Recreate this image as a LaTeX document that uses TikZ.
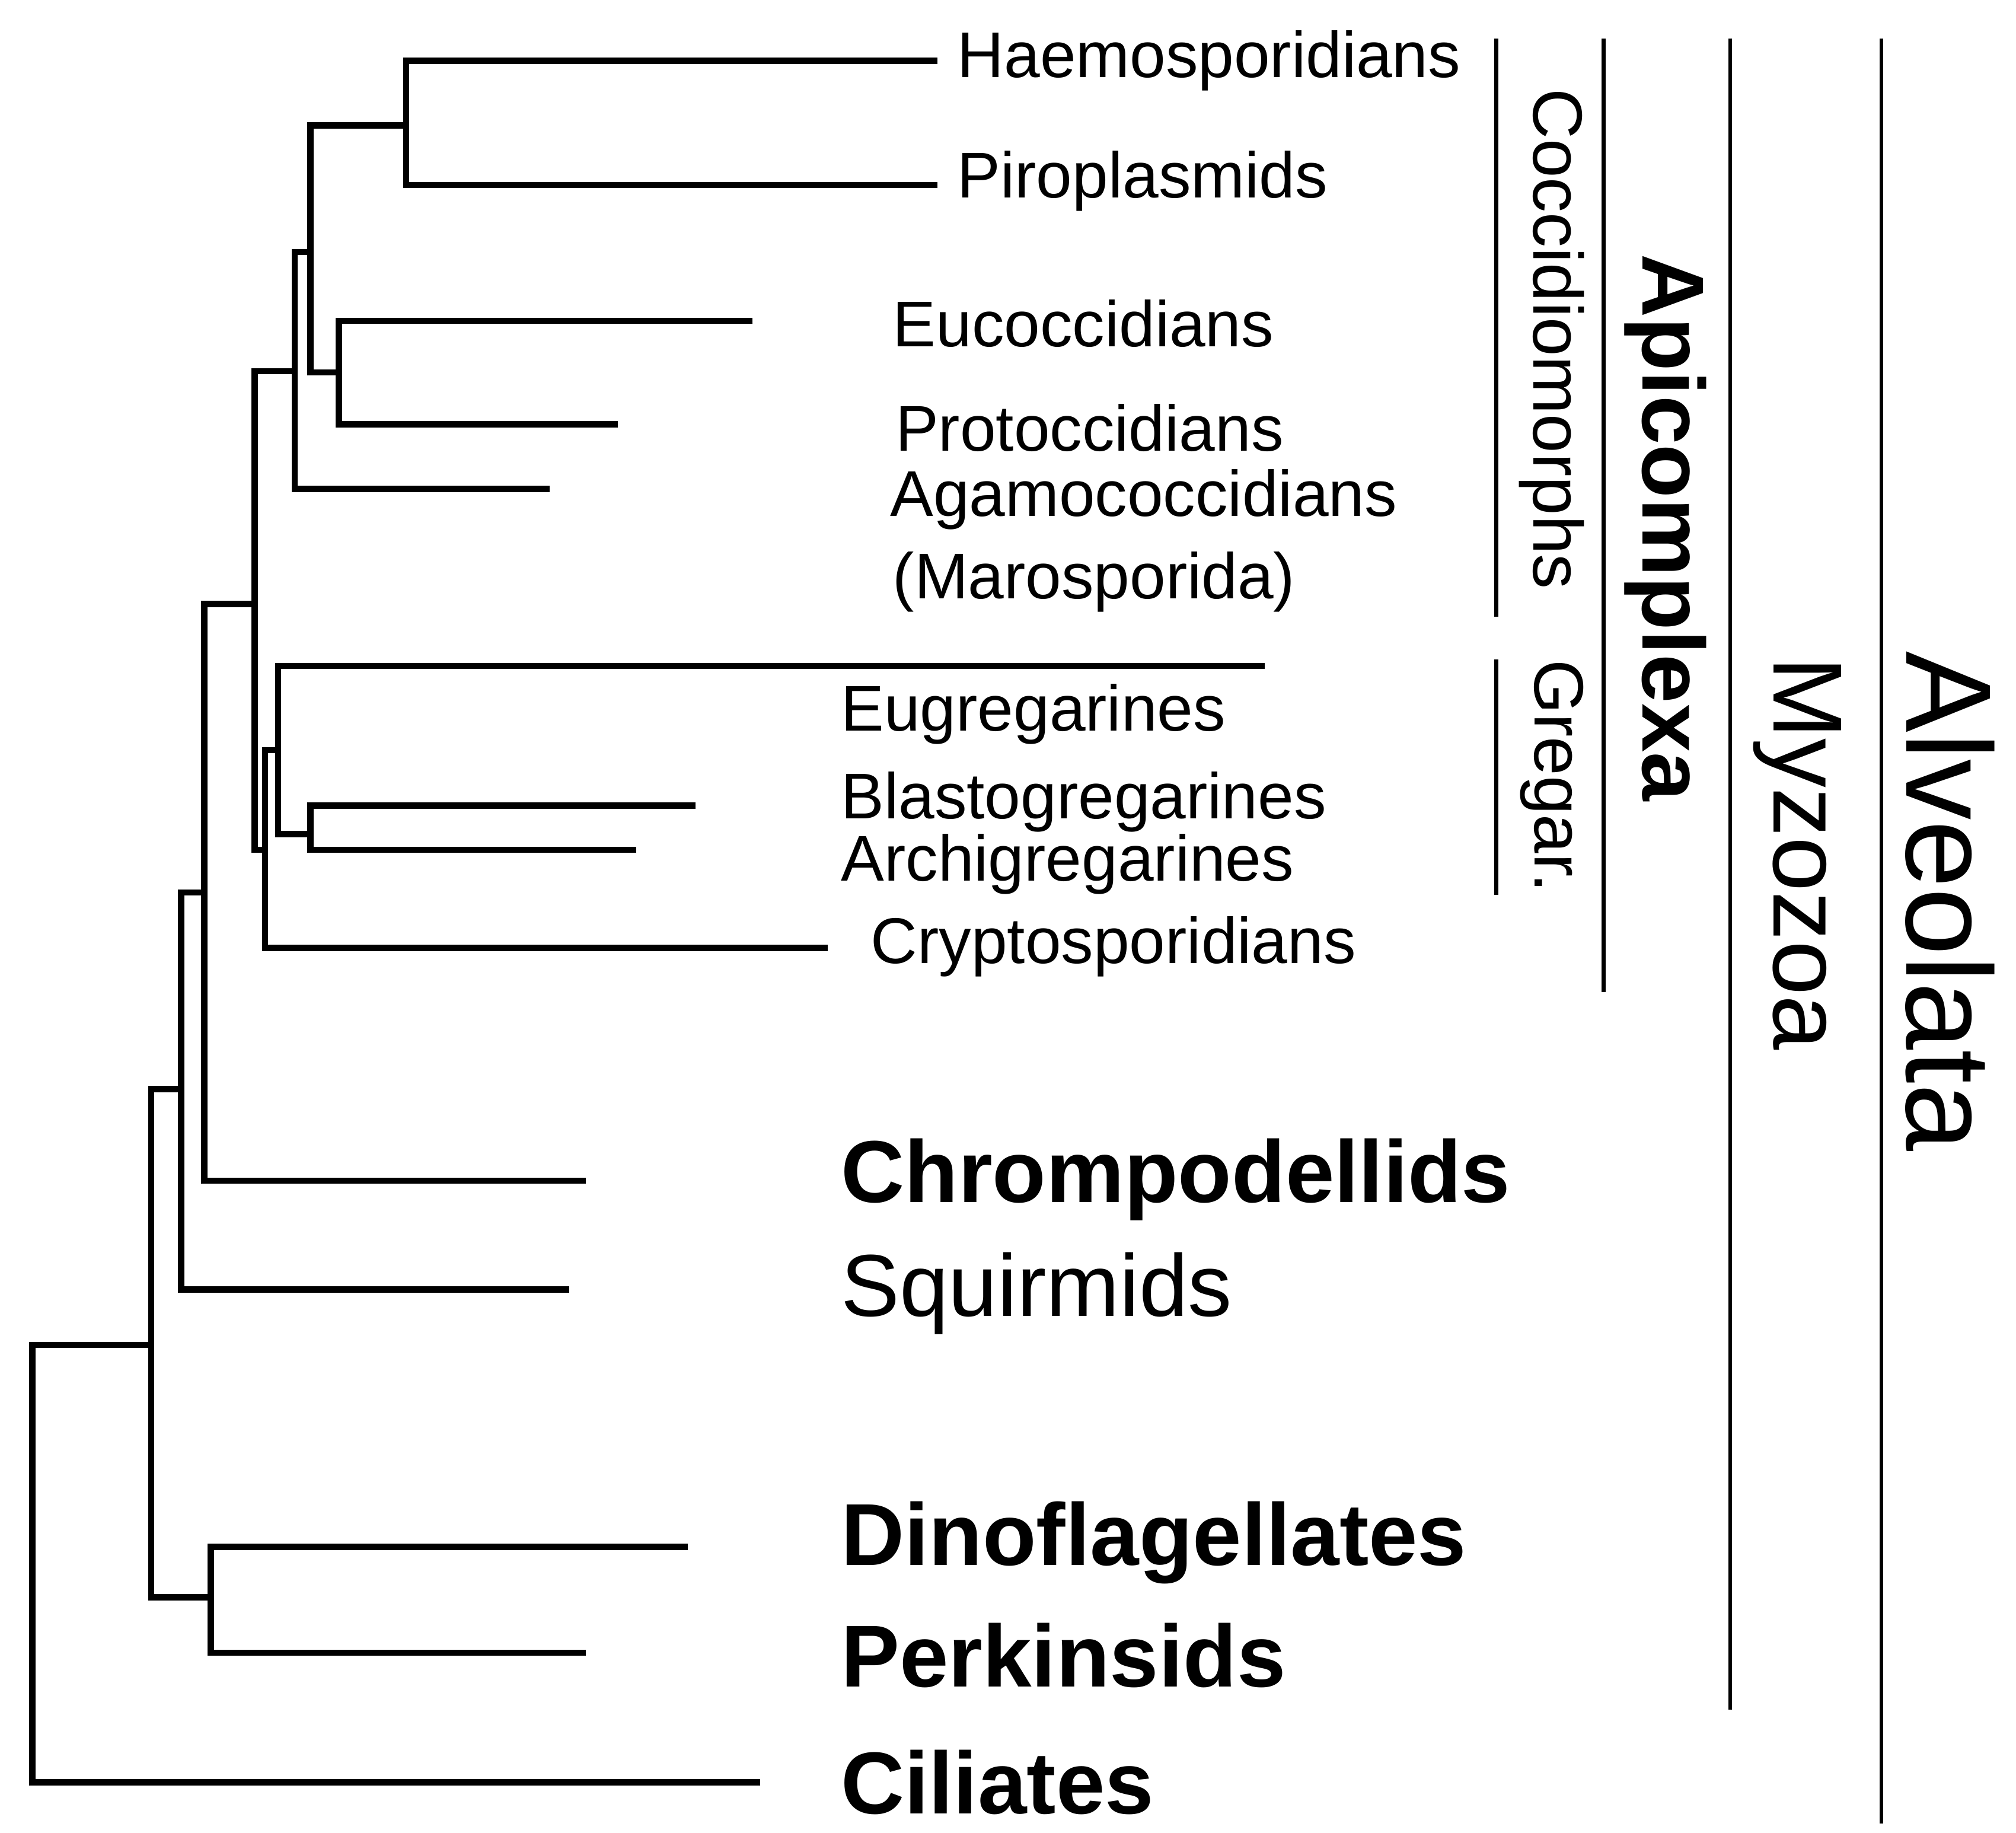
\documentclass[tikz,border=0pt]{standalone}
\usepackage{fontspec}
\setmainfont{Liberation Sans}
\begin{document}
\begin{tikzpicture}[x=0.5pt,y=-0.5pt,
  br/.style={line width=2.4pt,line cap=butt,line join=miter},
  bar/.style={line width=1.5pt},
  lab/.style={anchor=west,inner sep=0pt,font=\fontsize{25}{25}\selectfont},
  big/.style={anchor=west,inner sep=0pt,font=\fontsize{34}{34}\selectfont\bfseries},
  bigr/.style={anchor=west,inner sep=0pt,font=\fontsize{34}{34}\selectfont},
  vlab/.style={rotate=-90,inner sep=0pt}]
\useasboundingbox (0,0) rectangle (1559,1417);
% tree
\draw[br] (588,1378) -- (25,1378) -- (25,1040) -- (117,1040);
\draw[br] (140,842) -- (117,842) -- (117,1235) -- (163,1235);
\draw[br] (532,1196) -- (163,1196) -- (163,1278) -- (453,1278);
\draw[br] (158,690) -- (140,690) -- (140,997) -- (440,997);
\draw[br] (197,467) -- (158,467) -- (158,913) -- (453,913);
\draw[br] (228,287) -- (197,287) -- (197,657) -- (205,657);
\draw[br] (240,195) -- (228,195) -- (228,378) -- (425,378);
\draw[br] (314,97) -- (240,97) -- (240,288) -- (262,288);
\draw[br] (725,47) -- (314,47) -- (314,143) -- (725,143);
\draw[br] (582,248) -- (262,248) -- (262,328) -- (478,328);
\draw[br] (215,580) -- (205,580) -- (205,733) -- (640,733);
\draw[br] (978,515) -- (215,515) -- (215,645) -- (240,645);
\draw[br] (538,623) -- (240,623) -- (240,657) -- (492,657);
% labels
\node[lab] (haemo) at (740,47) {Haemosporidians};
\node[lab] (piro) at (740,140) {Piroplasmids};
\node[lab] (euco) at (690,250) {Eucoccidians};
\node[lab] (proto) at (692,331) {Protoccidians};
\node[lab] (agamo) at (688,386) {Agamococcidians};
\node[lab] (maro) at (690,450) {(Marosporida)};
\node[lab] (eugr) at (650,552) {Eugregarines};
\node[lab] (blast) at (650,620) {Blastogregarines};
\node[lab] (archi) at (650,668) {Archigregarines};
\node[lab] (crypto) at (673,732) {Cryptosporidians};
\node[big] (chrom) at (650,912) {Chrompodellids};
\node[bigr] (squi) at (650,1000) {Squirmids};
\node[big] (dino) at (650,1193) {Dinoflagellates};
\node[big] (perk) at (650,1280) {Perkinsids};
\node[big] (cil) at (650,1378) {Ciliates};
% clade bars
\draw[bar] (1157,30) -- (1157,477);
\node[vlab,font=\fontsize{27}{27}\selectfont] (cocc) at (1200,262) {Coccidiomorphs};
\draw[bar] (1157,510) -- (1157,692);
\node[vlab,font=\fontsize{27}{27}\selectfont] (greg) at (1200,600) {Gregar.};
\draw[bar] (1240,30) -- (1240,767);
\node[vlab,font=\fontsize{34}{34}\selectfont\bfseries] (api) at (1288,408) {Apicomplexa};
\draw[bar] (1338,30) -- (1338,1322);
\node[vlab,font=\fontsize{38}{38}\selectfont] (myz) at (1390,660) {Myzozoa};
\draw[bar] (1455,30) -- (1455,1410);
\node[vlab,font=\fontsize{47}{47}\selectfont] (alv) at (1508,697) {Alveolata};
\end{tikzpicture}
\end{document}
